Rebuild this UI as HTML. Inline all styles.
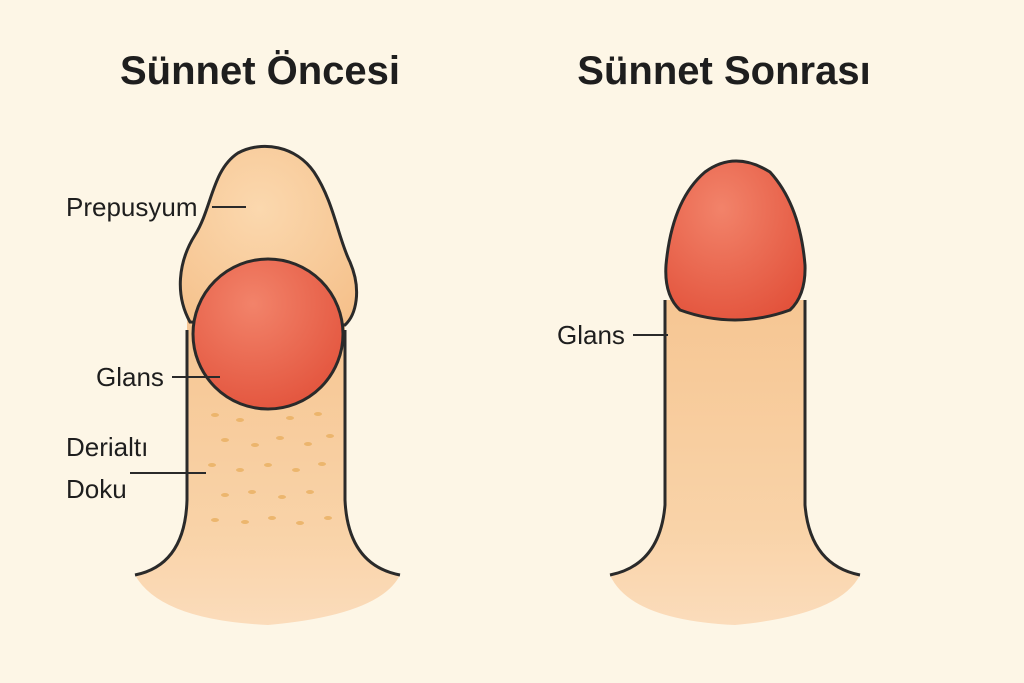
<!DOCTYPE html>
<html><head><meta charset="utf-8"><style>
html,body{margin:0;padding:0;background:#fdf6e6;}
svg{display:block}
text{font-family:"Liberation Sans",sans-serif;fill:#1e1e1e}
</style></head><body>
<svg width="1024" height="683" viewBox="0 0 1024 683" xmlns="http://www.w3.org/2000/svg">
<defs>
<radialGradient id="skin" cx="0.45" cy="0.35" r="0.8">
<stop offset="0" stop-color="#fbd8ae"/><stop offset="1" stop-color="#f5c08a"/></radialGradient>
<radialGradient id="gl" cx="0.4" cy="0.3" r="0.8">
<stop offset="0" stop-color="#f2836a"/><stop offset="1" stop-color="#e2513a"/></radialGradient>
<linearGradient id="base" x1="0" y1="0" x2="0" y2="1">
<stop offset="0" stop-color="#f6c693"/><stop offset="0.7" stop-color="#f9d3a8"/><stop offset="1" stop-color="#fbdcbb"/></linearGradient>
</defs>
<rect width="1024" height="683" fill="#fdf6e6"/>
<text x="260" y="84" font-size="40" font-weight="bold" text-anchor="middle">Sünnet Öncesi</text>
<text x="724" y="84" font-size="40" font-weight="bold" text-anchor="middle">Sünnet Sonrası</text>

<!-- Left figure -->
<path d="M135,575 Q185,565 187,500 L187,320 L345,320 L345,500 Q348,565 400,575 Q380,615 268,625 Q160,620 135,575 Z" fill="url(#base)"/>
<path d="M135,575 Q185,565 187,500 L187,330 M345,330 L345,500 Q348,565 400,575" fill="none" stroke="#2a2a2a" stroke-width="3"/>
<g fill="#eab061" opacity="0.8">
<ellipse cx="215" cy="415" rx="4" ry="2"/><ellipse cx="240" cy="420" rx="4" ry="2"/><ellipse cx="290" cy="418" rx="4" ry="2"/><ellipse cx="318" cy="414" rx="4" ry="2"/>
<ellipse cx="225" cy="440" rx="4" ry="2"/><ellipse cx="255" cy="445" rx="4" ry="2"/><ellipse cx="280" cy="438" rx="4" ry="2"/><ellipse cx="308" cy="444" rx="4" ry="2"/><ellipse cx="330" cy="436" rx="4" ry="2"/>
<ellipse cx="212" cy="465" rx="4" ry="2"/><ellipse cx="240" cy="470" rx="4" ry="2"/><ellipse cx="268" cy="465" rx="4" ry="2"/><ellipse cx="296" cy="470" rx="4" ry="2"/><ellipse cx="322" cy="464" rx="4" ry="2"/>
<ellipse cx="225" cy="495" rx="4" ry="2"/><ellipse cx="252" cy="492" rx="4" ry="2"/><ellipse cx="282" cy="497" rx="4" ry="2"/><ellipse cx="310" cy="492" rx="4" ry="2"/>
<ellipse cx="215" cy="520" rx="4" ry="2"/><ellipse cx="245" cy="522" rx="4" ry="2"/><ellipse cx="272" cy="518" rx="4" ry="2"/><ellipse cx="300" cy="523" rx="4" ry="2"/><ellipse cx="328" cy="518" rx="4" ry="2"/>
</g>
<path d="M190,322 C175,295 178,262 195,235 C212,208 212,170 238,153 C262,140 296,146 314,172 C334,202 338,238 350,262 C362,290 356,315 345,325 Z" fill="url(#skin)" stroke="#2a2a2a" stroke-width="3"/>
<circle cx="268" cy="334" r="75" fill="url(#gl)" stroke="#2a2a2a" stroke-width="3"/>

<text x="66" y="216" font-size="26">Prepusyum</text>
<line x1="212" y1="207" x2="246" y2="207" stroke="#2a2a2a" stroke-width="2"/>
<text x="96" y="386" font-size="26">Glans</text>
<line x1="172" y1="377" x2="220" y2="377" stroke="#2a2a2a" stroke-width="2"/>
<text x="66" y="456" font-size="26">Derialtı</text>
<text x="66" y="498" font-size="26">Doku</text>
<line x1="130" y1="473" x2="206" y2="473" stroke="#2a2a2a" stroke-width="2"/>

<!-- Right figure -->
<path d="M610,575 Q660,565 665,505 L665,300 L805,300 L805,505 Q810,565 860,575 Q840,615 735,625 Q630,620 610,575 Z" fill="url(#base)"/>
<path d="M610,575 Q660,565 665,505 L665,300 M805,300 L805,505 Q810,565 860,575" fill="none" stroke="#2a2a2a" stroke-width="3"/>
<path d="M680,310 Q664,295 666,265 Q672,200 705,172 Q735,150 770,172 Q800,205 805,265 Q806,295 790,310 Q735,330 680,310 Z" fill="url(#gl)" stroke="#2a2a2a" stroke-width="3"/>
<text x="557" y="344" font-size="26">Glans</text>
<line x1="633" y1="335" x2="668" y2="335" stroke="#2a2a2a" stroke-width="2"/>
</svg>
</body></html>
